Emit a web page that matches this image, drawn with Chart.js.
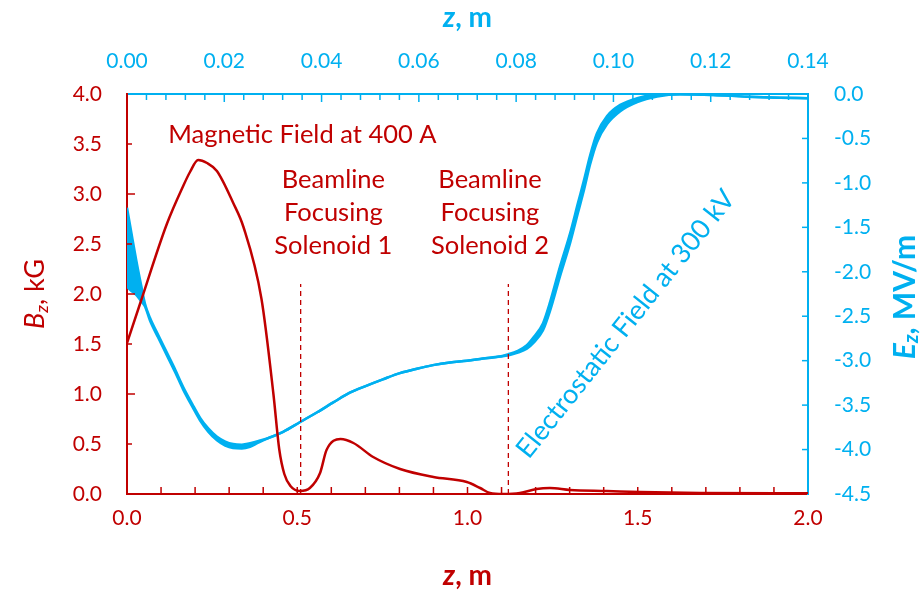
<!DOCTYPE html>
<html>
<head>
<meta charset="utf-8">
<script src="https://cdn.jsdelivr.net/npm/chart.js@4.4.1/dist/chart.umd.min.js"></script>
<style>
  html, body { margin: 0; padding: 0; background: #fff; }
</style>
</head>
<body>
<canvas id="chart" width="924" height="590"></canvas>
<script>
// magnetic field B_z (kG) vs z (m), bottom/left axes
const zMag = [0, 0.04, 0.117, 0.165, 0.185, 0.209, 0.235, 0.264, 0.312, 0.342, 0.395, 0.43, 0.447, 0.462, 0.48, 0.508, 0.537, 0.567, 0.586, 0.627, 0.665, 0.723, 0.802, 0.9, 0.998, 1.037, 1.066, 1.105, 1.154, 1.203, 1.242, 1.301, 1.409, 1.507, 1.683, 2.0]
const bField = [1.51, 1.92, 2.70, 3.08, 3.22, 3.34, 3.31, 3.23, 2.91, 2.67, 1.95, 1.0, 0.45, 0.2, 0.08, 0.03, 0.06, 0.21, 0.44, 0.55, 0.51, 0.37, 0.25, 0.17, 0.12, 0.06, 0.01, 0.0, 0.01, 0.05, 0.06, 0.04, 0.03, 0.02, 0.01, 0.007]

// electrostatic field E_z (MV/m) vs z (m), top/right axes
// the field ripples, so it is kept as an upper and lower envelope
const zElec = [0, 0.0008, 0.0019, 0.0029, 0.0037, 0.0047, 0.0064, 0.0082, 0.0099, 0.0115, 0.0134, 0.0150, 0.0167, 0.0185, 0.0202, 0.0218, 0.0236, 0.0253, 0.0269, 0.0288, 0.0321, 0.0356, 0.0391, 0.0424, 0.0458, 0.0493, 0.0526, 0.0561, 0.0596, 0.0629, 0.0664, 0.0699, 0.0732, 0.0767, 0.0783, 0.0802, 0.0822, 0.0835, 0.0855, 0.0870, 0.0890, 0.0911, 0.0927, 0.0940, 0.0952, 0.0966, 0.0987, 0.1014, 0.1049, 0.1090, 0.1137, 0.1205, 0.1275, 0.1342, 0.14]
const eUpper = [-1.28, -1.53, -1.87, -2.15, -2.36, -2.515, -2.71, -2.91, -3.10, -3.29, -3.485, -3.64, -3.762, -3.856, -3.91, -3.938, -3.945, -3.93, -3.905, -3.876, -3.80, -3.69, -3.58, -3.47, -3.36, -3.28, -3.21, -3.14, -3.09, -3.05, -3.02, -3.00, -2.976, -2.953, -2.929, -2.893, -2.826, -2.743, -2.581, -2.335, -1.945, -1.565, -1.228, -0.958, -0.693, -0.445, -0.248, -0.123, -0.046, -0.006, -0.003, -0.011, -0.03, -0.042, -0.048]
const eLower = [-2.17, -2.21, -2.26, -2.33, -2.39, -2.545, -2.74, -2.94, -3.13, -3.32, -3.515, -3.67, -3.798, -3.896, -3.955, -3.982, -3.987, -3.968, -3.925, -3.876, -3.80, -3.69, -3.58, -3.47, -3.36, -3.28, -3.21, -3.14, -3.09, -3.05, -3.02, -3.00, -2.976, -2.953, -2.943, -2.913, -2.866, -2.803, -2.661, -2.435, -2.055, -1.675, -1.338, -1.068, -0.793, -0.545, -0.338, -0.193, -0.09, -0.028, -0.003, -0.011, -0.03, -0.042, -0.048]

// solenoid centre markers (m) and the height the dashed lines reach (kG)
const solenoidZ = [0.51, 1.12]
const solenoidTop = 2.1

const RED = '#C00000'
const BLUE = '#00B0F0'
const FONT = 'Lato, "Open Sans", sans-serif'

const toPoints = (xs, ys) => xs.map((x, i) => ({ x: x, y: ys[i] }))

function richText(ctx, parts, x, y, angle) {
  ctx.save()
  ctx.translate(x, y)
  ctx.rotate(angle || 0)
  let total = 0
  parts.forEach(p => { ctx.font = p.font; p.w = ctx.measureText(p.text).width; total += p.w })
  let cx = -total / 2
  ctx.textBaseline = 'middle'
  ctx.textAlign = 'left'
  parts.forEach(p => {
    ctx.font = p.font
    ctx.fillStyle = p.color
    ctx.fillText(p.text, cx, p.dy || 0)
    cx += p.w
  })
  ctx.restore()
}

// inward tick marks, drawn through the chart's own scales
const innerTicks = {
  id: 'innerTicks',
  afterDraw(chart) {
    const { ctx, chartArea: a, scales } = chart
    ctx.save()
    ctx.lineWidth = 1.5
    const tick = (x1, y1, x2, y2) => { ctx.beginPath(); ctx.moveTo(x1, y1); ctx.lineTo(x2, y2); ctx.stroke() }

    ctx.strokeStyle = RED
    for (let i = 1; i < 20; i++) {
      const px = scales.x.getPixelForValue(i * 0.1)
      tick(px, a.bottom, px, a.bottom - 7)
    }
    for (let i = 1; i < 8; i++) {
      const py = scales.y.getPixelForValue(i * 0.5)
      tick(a.left, py, a.left + (i % 2 ? 5 : 8), py)
    }

    ctx.strokeStyle = BLUE
    for (let i = 1; i < 35; i++) {
      const px = scales.x2.getPixelForValue(i * 0.004)
      tick(px, a.top, px, a.top + (i % 5 ? 6 : 8))
    }
    for (let i = 1; i < 9; i++) {
      const py = scales.y2.getPixelForValue(-4.5 + i * 0.5)
      tick(a.right, py, a.right - 6, py)
    }
    ctx.restore()
  }
}

// axis titles (italic symbols with subscripts) and in-plot labels
const labels = {
  id: 'labels',
  afterDraw(chart) {
    const { ctx, chartArea: a, scales } = chart
    const midX = (a.left + a.right) / 2
    const midY = (a.top + a.bottom) / 2

    richText(ctx, [
      { text: 'z', font: `italic bold 28px ${FONT}`, color: BLUE },
      { text: ', m', font: `bold 28px ${FONT}`, color: BLUE }
    ], midX, 18)
    richText(ctx, [
      { text: 'z', font: `italic bold 28px ${FONT}`, color: RED },
      { text: ', m', font: `bold 28px ${FONT}`, color: RED }
    ], midX, 576)
    richText(ctx, [
      { text: 'B', font: `italic 27px ${FONT}`, color: RED },
      { text: 'z', font: `italic 18px ${FONT}`, color: RED, dy: 7 },
      { text: ', kG', font: `27px ${FONT}`, color: RED }
    ], 35, midY, -Math.PI / 2)
    richText(ctx, [
      { text: 'E', font: `italic bold 30px ${FONT}`, color: BLUE },
      { text: 'z', font: `italic bold 20px ${FONT}`, color: BLUE, dy: 7 },
      { text: ', MV/m', font: `bold 30px ${FONT}`, color: BLUE }
    ], 905, midY + 3, -Math.PI / 2)

    const x = scales.x, y = scales.y
    const redText = (t, zv, bv) => richText(ctx, [{ text: t, font: `25.5px ${FONT}`, color: RED }], x.getPixelForValue(zv), y.getPixelForValue(bv))
    redText('Magnetic Field at 400 A', 0.515, 3.59)
    ;['Beamline', 'Focusing', 'Solenoid 1'].forEach((t, i) => redText(t, 0.606, 3.14 - i * 0.33))
    ;['Beamline', 'Focusing', 'Solenoid 2'].forEach((t, i) => redText(t, 1.066, 3.14 - i * 0.33))

    richText(ctx, [{ text: 'Electrostatic Field at 300 kV', font: `27px ${FONT}`, color: BLUE }],
      x.getPixelForValue(1.465), y.getPixelForValue(1.70), -51.5 * Math.PI / 180)
  }
}

const datasets = [
  {
    data: toPoints(zMag, bField),
    xAxisID: 'x', yAxisID: 'y',
    borderColor: RED, borderWidth: 2.5,
    cubicInterpolationMode: 'monotone',
    pointRadius: 0, order: 0
  },
  ...solenoidZ.map(zv => ({
    data: [{ x: zv, y: 0 }, { x: zv, y: solenoidTop }],
    xAxisID: 'x', yAxisID: 'y',
    borderColor: RED, borderWidth: 1.3, borderDash: [5, 4],
    pointRadius: 0, order: 1
  })),
  {
    data: toPoints(zElec, eUpper),
    xAxisID: 'x2', yAxisID: 'y2',
    borderColor: BLUE, borderWidth: 2.5,
    cubicInterpolationMode: 'monotone',
    pointRadius: 0, order: 2
  },
  {
    data: toPoints(zElec, eLower),
    xAxisID: 'x2', yAxisID: 'y2',
    borderColor: BLUE, borderWidth: 2.5,
    backgroundColor: BLUE, fill: '-1',
    cubicInterpolationMode: 'monotone',
    pointRadius: 0, order: 2
  }
]

const tickFont = { family: FONT, size: 21 }

const config = {
  type: 'line',
  data: { datasets: datasets },
  options: {
    responsive: false,
    animation: false,
    layout: { padding: 0 },
    scales: {
      x: {
        type: 'linear', position: 'bottom', min: 0, max: 2,
        grid: { display: false, drawTicks: false },
        border: { color: RED, width: 2 },
        ticks: { stepSize: 0.5, color: RED, font: tickFont, padding: 12, callback: v => v.toFixed(1) },
        afterFit: s => { s.height = 96 }
      },
      x2: {
        type: 'linear', position: 'top', min: 0, max: 0.14,
        grid: { display: false, drawTicks: false },
        border: { color: BLUE, width: 2 },
        ticks: { stepSize: 0.02, color: BLUE, font: tickFont, padding: 20, callback: v => v.toFixed(2) },
        afterFit: s => { s.height = 94 }
      },
      y: {
        type: 'linear', position: 'left', min: 0, max: 4,
        grid: { display: false, drawTicks: false },
        border: { color: RED, width: 2 },
        ticks: { stepSize: 0.5, color: RED, font: tickFont, padding: 25, callback: v => v.toFixed(1) },
        afterFit: s => { s.width = 127 }
      },
      y2: {
        type: 'linear', position: 'right', min: -4.5, max: 0,
        grid: { display: false, drawTicks: false },
        border: { color: BLUE, width: 2 },
        ticks: { stepSize: 0.5, color: BLUE, font: tickFont, padding: 26, callback: v => v.toFixed(1) },
        afterFit: s => { s.width = 116 }
      }
    },
    plugins: {
      legend: { display: false },
      tooltip: { enabled: false }
    }
  },
  plugins: [innerTicks, labels]
}

new Chart(document.getElementById('chart'), config)
</script>
</body>
</html>
